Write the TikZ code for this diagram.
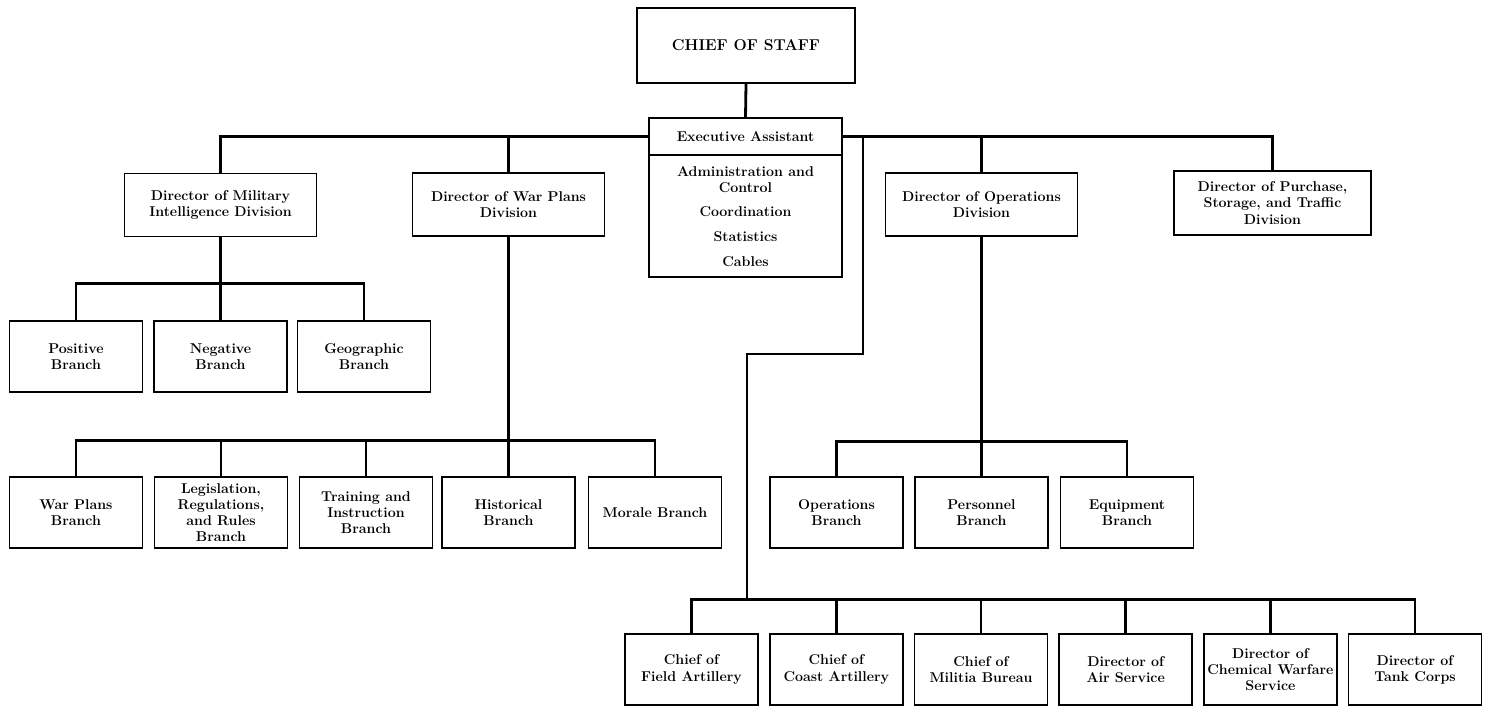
\documentclass[tikz,border=0pt]{standalone}
\begin{document}
\begin{tikzpicture}[x=1pt,y=-1pt,
  box/.style={draw, line width=1.8pt, rectangle, align=center, inner sep=1pt,
    font=\fontsize{14.2}{16.2}\selectfont\bfseries},
  topbox/.style={box, minimum width=192pt, minimum height=63pt},
  br/.style={box, minimum width=133pt, minimum height=71pt},
  txt/.style={align=center, inner sep=0pt, font=\fontsize{14.2}{16.2}\selectfont\bfseries},
  conn/.style={line width=2.8pt},
]
\useasboundingbox (0,0) rectangle (1487,707);

% top
\node[box, minimum width=218pt, minimum height=75pt, font=\fontsize{15.7}{18}\selectfont\bfseries] (chief) at (746,45.5) {CHIEF OF STAFF};
\node[box, minimum width=193pt, minimum height=37pt] (execA) at (745.5,136.5) {Executive Assistant};
\node[box, minimum width=193pt, minimum height=122pt] (execB) at (745.5,216) {};
\node[txt] (ex1) at (745.5,180) {Administration and\\Control};
\node[txt] (ex2) at (745.5,212) {Coordination};
\node[txt] (ex3) at (745.5,237) {Statistics};
\node[txt] (ex4) at (745.5,262) {Cables};

% divisions
\node[topbox] (mi) at (220.5,205) {Director of Military\\Intelligence Division};
\node[topbox] (wp) at (508.5,204.5) {Director of War Plans\\Division};
\node[topbox] (ops) at (981.5,204.5) {Director of Operations\\Division};
\node[box, minimum width=197pt, minimum height=64pt] (pst) at (1272.5,203) {Director of Purchase,\\Storage, and Traffic\\Division};

% MI branches
\node[br] (mipos) at (76,356.5) {Positive\\Branch};
\node[br] (mineg) at (220.5,356.5) {Negative\\Branch};
\node[br] (migeo) at (364,356.5) {Geographic\\Branch};

% WP branches
\node[br] (wpb) at (76,512.5) {War Plans\\Branch};
\node[br] (leg) at (221,512.5) {Legislation,\\Regulations,\\and Rules\\Branch};
\node[br] (tra) at (366,512.5) {Training and\\Instruction\\Branch};
\node[br] (hist) at (508.5,512.5) {Historical\\Branch};
\node[br] (mor) at (655,512.5) {Morale Branch};

% Ops branches
\node[br] (opsb) at (836.5,512.5) {Operations\\Branch};
\node[br] (pers) at (981.5,512.5) {Personnel\\Branch};
\node[br] (equ) at (1127,512.5) {Equipment\\Branch};

% bottom row
\node[br] (fa) at (691.5,669.5) {Chief of\\Field Artillery};
\node[br] (ca) at (836.3,669.5) {Chief of\\Coast Artillery};
\node[br] (mil) at (981,669.5) {Chief of\\Militia Bureau};
\node[br] (air) at (1125.7,669.5) {Director of\\Air Service};
\node[br] (chem) at (1270.4,669.5) {Director of\\Chemical Warfare\\Service};
\node[br] (tank) at (1415,669.5) {Director of\\Tank Corps};

% connectors
\draw[conn] (chief.south) -- (execA.north);
\draw[conn] (mi.north) |- (execA.west);
\draw[conn] (wp.north) -- (wp.north |- execA.west);
\draw[conn] (execA.east) -| (pst.north);
\draw[conn] (ops.north) -- (ops.north |- execA.east);
\coordinate (jogTop) at (863,136.5);
\coordinate (jogMid) at (863,354);
\coordinate (lowBus) at (747,600);
\draw[conn] (jogTop) -- (jogMid) -| (lowBus);

\draw[conn] (mi.south) -- (mineg.north);
\draw[conn] (mipos.north) -- ++(0,-37) -| (migeo.north);

\draw[conn] (wp.south) -- (hist.north);
\draw[conn] (wpb.north) -- ++(0,-36) -| (mor.north);
\draw[conn] (leg.north) -- ++(0,-36);
\draw[conn] (tra.north) -- ++(0,-36);

\draw[conn] (ops.south) -- (pers.north);
\draw[conn] (opsb.north) -- ++(0,-35) -| (equ.north);

\draw[conn] (fa.north) -- ++(0,-34) -| (tank.north);
\draw[conn] (ca.north) -- ++(0,-34);
\draw[conn] (mil.north) -- ++(0,-34);
\draw[conn] (air.north) -- ++(0,-34);
\draw[conn] (chem.north) -- ++(0,-34);
\end{tikzpicture}
\end{document}
